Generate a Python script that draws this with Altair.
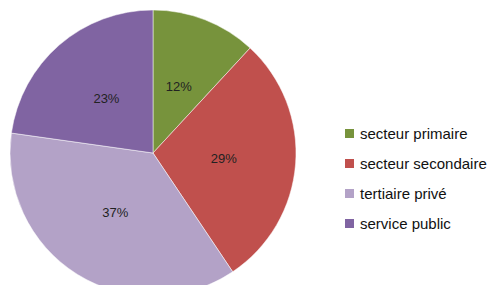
import altair as alt
import pandas as pd

categories = ["secteur primaire", "secteur secondaire", "tertiaire privé", "service public"]
values = [12, 29, 37, 23]
labels = ["12%", "29%", "37%", "23%"]
colors = ["#77933C", "#C0504D", "#B3A2C7", "#8064A2"]

df = pd.DataFrame({"cat": categories, "val": values, "label": labels, "idx": list(range(len(categories)))})

CX, CY, R = 145, 145, 143

base = alt.Chart(df).encode(
    theta=alt.Theta("val:Q", stack=True),
    order=alt.Order("idx:Q"),
)

pie = base.mark_arc(radius=R, stroke="white", strokeWidth=0.5).encode(
    x=alt.value(CX), y=alt.value(CY),
    color=alt.Color(
        "cat:N",
        sort=None,
        scale=alt.Scale(domain=categories, range=colors),
        legend=alt.Legend(
            title=None,
            orient="none",
            legendX=334,
            legendY=118,
            symbolType="square",
            symbolSize=81,
            symbolStrokeWidth=0,
            labelFontSize=15,
            labelFont="Liberation Sans",
            labelColor="#111",
            rowPadding=14,
            labelOffset=3,
            labelLimit=200,
        ),
    ),
)

text = base.mark_text(radius=71, fontSize=13, font="Liberation Sans", color="#222").encode(
    x=alt.value(CX), y=alt.value(CY),
    text="label:N",
)

chart = (pie + text).properties(
    width=480, height=277, padding=0, autosize=alt.AutoSizeParams(type="none")
).configure_view(stroke=None)

chart.save("out.html", embed_options={"renderer": "svg", "actions": False})
